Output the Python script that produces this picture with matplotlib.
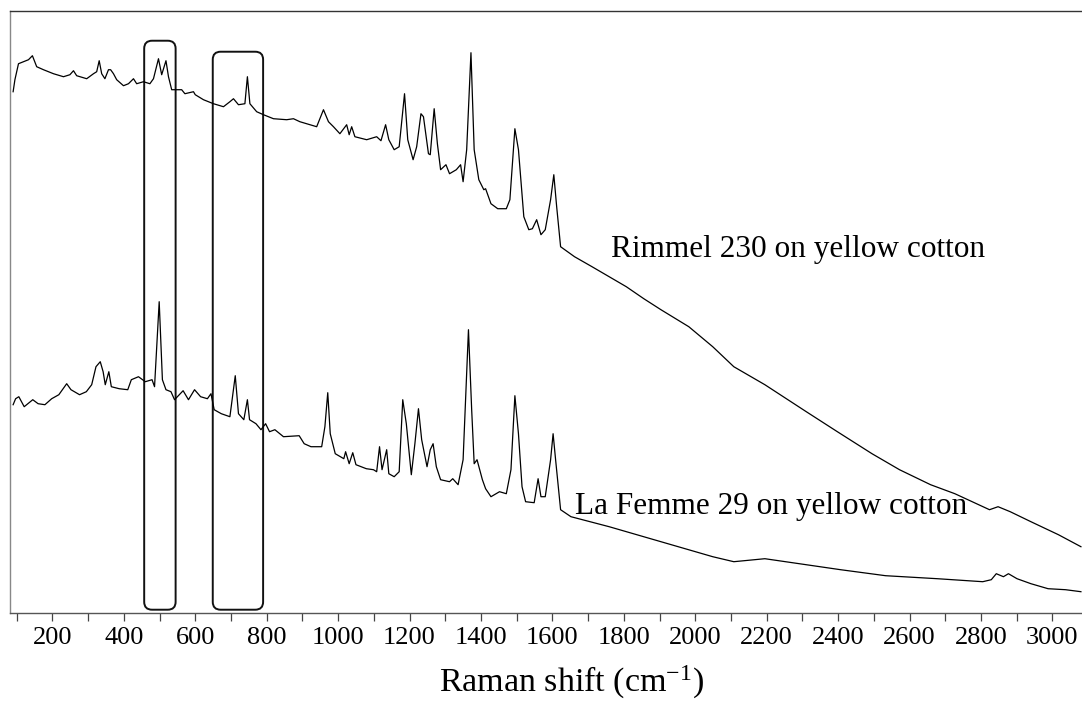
"""
Raman spectra of two lipsticks on yellow cotton, with the 500 and 700 cm-1
regions boxed.
"""

import matplotlib
matplotlib.use("Agg")
import matplotlib.pyplot as plt
from matplotlib.patches import FancyBboxPatch

# ---- data (intensity in arbitrary units) ----
rimmel_shift = [
    90, 95, 105, 119, 133, 144, 156, 175, 203, 231, 249, 259, 268, 296, 315,
    324, 331, 338, 347, 357, 363, 371, 380, 399, 413, 427, 436, 455, 473, 483,
    497, 506, 518, 525, 534, 548, 562, 571, 595, 600, 623, 651, 679, 697, 707,
    721, 739, 746, 753, 772, 791, 819, 856, 875, 893, 921, 940, 959, 973, 987,
    1005, 1024, 1031, 1038, 1047, 1080, 1108, 1120, 1133, 1142, 1157, 1171,
    1186, 1195, 1210, 1220, 1232, 1239, 1253, 1258, 1269, 1278, 1287, 1302,
    1312, 1331, 1343, 1350, 1360, 1372, 1381, 1394, 1408, 1413, 1428, 1447,
    1471, 1481, 1495, 1505, 1520, 1534, 1544, 1556, 1568, 1580, 1595, 1604,
    1612, 1623, 1662, 1711, 1759, 1807, 1856, 1904, 1982, 2049, 2108, 2195,
    2311, 2398, 2495, 2572, 2659, 2727, 2824, 2848, 2882, 2940, 3017, 3080,
]
rimmel_int = [
    521, 533, 549, 551, 553, 557, 546, 543, 539, 536, 538, 542, 537, 534, 539,
    541, 552, 539, 534, 543, 543, 539, 533, 527, 529, 534, 529, 531, 529, 534,
    554, 538, 552, 536, 523, 523, 523, 519, 521, 518, 513, 509, 506, 511, 514,
    508, 509, 536, 509, 501, 498, 494, 493, 494, 491, 488, 486, 503, 491, 486,
    479, 488, 478, 486, 476, 473, 476, 472, 488, 473, 463, 466, 519, 473, 453,
    466, 499, 496, 459, 458, 504, 469, 443, 448, 439, 443, 448, 431, 463, 560,
    463, 433, 423, 424, 409, 404, 404, 413, 484, 463, 396, 383, 384, 393, 378,
    383, 413, 438, 406, 366, 356, 346, 336, 326, 314, 303, 286, 266, 246, 228,
    201, 181, 159, 143, 128, 119, 103, 106, 101, 91, 78, 66,
]

femme_shift = [
    90, 97, 106, 121, 145, 160, 179, 198, 218, 240, 252, 276, 295, 310, 322,
    334, 342, 348, 358, 365, 387, 411, 421, 441, 460, 479, 486, 499, 508, 518,
    532, 542, 566, 581, 598, 615, 634, 644, 653, 673, 697, 712, 721, 736, 746,
    752, 770, 784, 797, 808, 823, 847, 891, 905, 924, 954, 963, 971, 978, 992,
    1016, 1021, 1031, 1041, 1050, 1079, 1099, 1108, 1116, 1123, 1136, 1142,
    1157, 1171, 1181, 1191, 1205, 1215, 1225, 1234, 1249, 1258, 1266, 1275,
    1287, 1312, 1321, 1336, 1350, 1365, 1374, 1381, 1389, 1404, 1413, 1428,
    1452, 1471, 1484, 1495, 1505, 1515, 1525, 1549, 1560, 1568, 1580, 1595,
    1602, 1609, 1623, 1652, 1759, 1856, 1953, 2049, 2108, 2195, 2292, 2407,
    2533, 2678, 2805, 2829, 2843, 2863, 2877, 2901, 2940, 2988, 3037, 3080,
]
femme_int = [
    208, 214, 216, 206, 213, 209, 208, 214, 218, 229, 223, 218, 221, 228, 246,
    251, 241, 228, 241, 226, 224, 223, 233, 236, 231, 233, 226, 311, 233, 223,
    221, 213, 222, 213, 223, 216, 214, 219, 203, 199, 196, 237, 199, 193, 213,
    193, 189, 183, 189, 181, 183, 176, 177, 169, 166, 166, 186, 220, 179, 159,
    154, 161, 149, 160, 148, 144, 143, 141, 166, 143, 163, 139, 136, 141, 213,
    189, 138, 169, 204, 173, 146, 163, 169, 146, 133, 131, 134, 128, 153, 283,
    203, 149, 153, 133, 124, 116, 121, 119, 143, 217, 179, 126, 111, 110, 134,
    116, 116, 153, 179, 153, 103, 96, 86, 76, 66, 56, 51, 54, 49, 43,
    37, 34, 31, 33, 39, 36, 39, 34, 29, 24, 23, 21,
]

trace_names = ["Rimmel 230 on yellow cotton", "La Femme 29 on yellow cotton"]
label_shift = [1764, 1662]
label_int = [356, 99]

# boxed regions (cm-1) and box tops (a.u.)
box_left = [457, 649]
box_right = [545, 790]
box_top = [572, 561]
box_bottom = 3

XLIM = (80.4, 3083)
YLIM = (0, 601.7)
SERIF = "Liberation Serif"

plt.rcParams["font.family"] = SERIF
plt.rcParams["mathtext.default"] = "regular"

fig = plt.figure(figsize=(10.82, 7.02), dpi=100)
ax = fig.add_axes([0.00896, 0.1272, 0.99104, 0.8571])

ax.plot(rimmel_shift, rimmel_int, color="black", lw=0.9)
ax.plot(femme_shift, femme_int, color="black", lw=0.9)

for name, x, y in zip(trace_names, label_shift, label_int):
    ax.text(x, y, name, fontsize=22.5, ha="left", va="baseline")

# x units per px ~2.8, so squash the rounding to keep corners round on screen
for l, r, t in zip(box_left, box_right, box_top):
    ax.add_patch(FancyBboxPatch((l, box_bottom), r - l, t - box_bottom,
                                boxstyle="round,pad=0,rounding_size=22",
                                mutation_aspect=0.357, fill=False,
                                ec="#111111", lw=1.4))

ax.set_xlim(*XLIM)
ax.set_ylim(*YLIM)
ax.set_xticks(range(200, 3001, 200))
ax.set_xticks(range(100, 3001, 200), minor=True)
ax.tick_params(axis="x", which="both", direction="out", length=5.5, width=0.9,
               color="#444444", labelsize=19, pad=4.5)
ax.set_yticks([])

ax.spines["right"].set_visible(False)
ax.spines["top"].set_color("#333333")
ax.spines["bottom"].set_color("#555555")
ax.spines["left"].set_color("#888888")
for s in ax.spines.values():
    s.set_linewidth(1.0)

fig.text(571.5 / 1082, 10 / 702, "Raman shift (cm$^{-1}$)", fontsize=24.5,
         ha="center", va="baseline")

fig.savefig("out.png", dpi=100)
